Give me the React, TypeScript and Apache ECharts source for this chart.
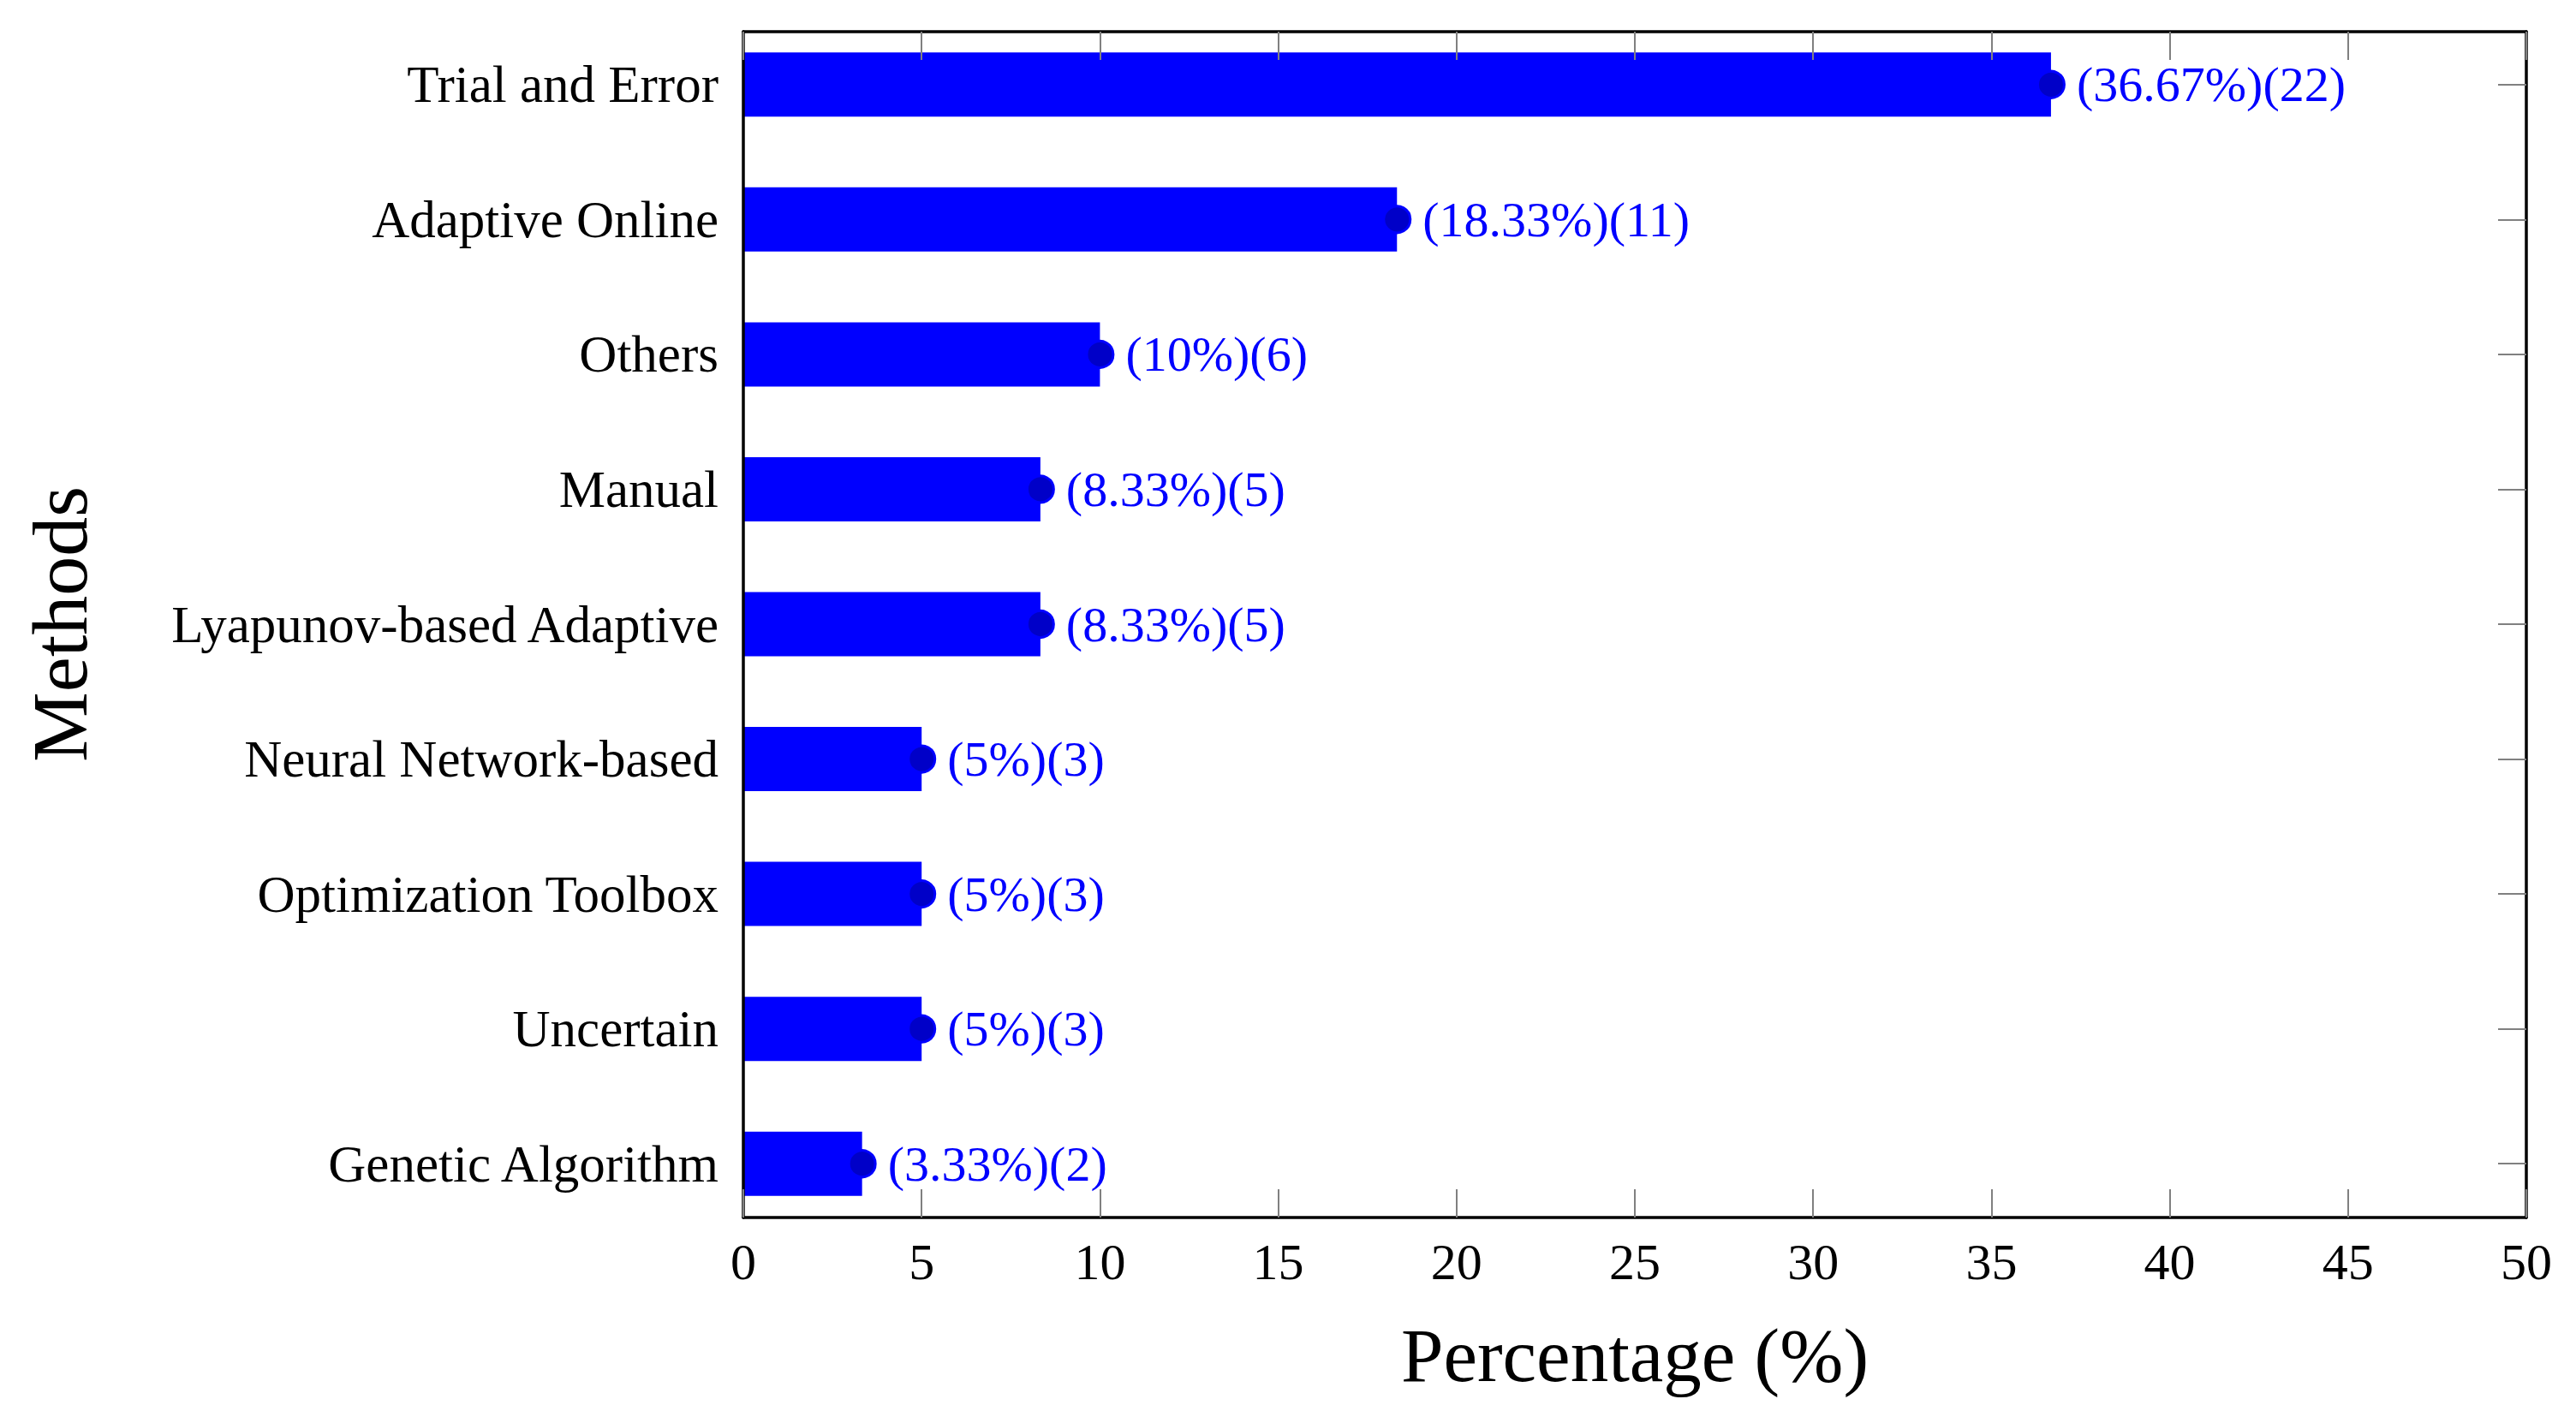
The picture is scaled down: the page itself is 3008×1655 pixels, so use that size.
import * as echarts from 'echarts';
import { useEffect, useRef } from 'react';

const methods = [
    'Trial and Error',
    'Adaptive Online',
    'Others',
    'Manual',
    'Lyapunov-based Adaptive',
    'Neural Network-based',
    'Optimization Toolbox',
    'Uncertain',
    'Genetic Algorithm'
];
const percentages = [36.67, 18.33, 10, 8.33, 8.33, 5, 5, 5, 3.33];
const counts = [22, 11, 6, 5, 5, 3, 3, 3, 2];
const xTicks = [0, 5, 10, 15, 20, 25, 30, 35, 40, 45, 50];

const FONT = 'Liberation Serif';
const BLUE = '#0000ff';
const TICK = { show: true, inside: true, length: 33, lineStyle: { color: '#808080', width: 2 } };
const FRAME = { show: true, onZero: false, lineStyle: { color: '#000', width: 3.5 } };

const App = () => {
    const chartDiv = useRef<HTMLDivElement>(null);

    useEffect(() => {
        document.body.style.margin = '0';
        const chart = echarts.init(chartDiv.current, null, { renderer: 'svg' });

        const xMin = xTicks[0];
        const xMax = xTicks[xTicks.length - 1];

        chart.setOption({
            animation: false,
            backgroundColor: '#fff',
            grid: [
                // frame
                { left: 868, top: 37, width: 2082, height: 1385 },
                // bars (slightly taller, like pgfplots' enlarged limits)
                { left: 868, top: 20, width: 2082, height: 1418 }
            ],
            xAxis: [
                {
                    type: 'value', gridIndex: 0, position: 'bottom', min: xMin, max: xMax, interval: 5, z: 10,
                    axisLine: FRAME, axisTick: TICK, splitLine: { show: false },
                    axisLabel: { fontFamily: FONT, fontSize: 60, color: '#000', margin: 22 },
                    name: 'Percentage (%)', nameLocation: 'middle', nameGap: 116,
                    nameTextStyle: { fontFamily: FONT, fontSize: 89, color: '#000' }
                },
                {
                    type: 'value', gridIndex: 0, position: 'top', min: xMin, max: xMax, interval: 5, z: 10,
                    axisLine: FRAME, axisTick: TICK, splitLine: { show: false }, axisLabel: { show: false }
                },
                {
                    type: 'value', gridIndex: 1, min: xMin, max: xMax, show: false
                }
            ],
            yAxis: [
                {
                    type: 'value', gridIndex: 0, position: 'left', z: 10,
                    axisLine: FRAME, axisTick: { show: false }, axisLabel: { show: false }, splitLine: { show: false }
                },
                {
                    type: 'value', gridIndex: 0, position: 'right', z: 10,
                    axisLine: FRAME, axisTick: { show: false }, axisLabel: { show: false }, splitLine: { show: false }
                },
                {
                    type: 'category', gridIndex: 1, position: 'left', inverse: true, data: methods,
                    axisLine: { show: false }, axisTick: { show: false },
                    axisLabel: { fontFamily: FONT, fontSize: 61, color: '#000', margin: 29 },
                    name: 'Methods', nameLocation: 'middle', nameGap: 752,
                    nameTextStyle: { fontFamily: FONT, fontSize: 92, color: '#000' }
                },
                {
                    type: 'category', gridIndex: 1, position: 'right', inverse: true, data: methods, z: 10,
                    axisLine: { show: false },
                    axisTick: { ...TICK, alignWithLabel: true },
                    axisLabel: { show: false }
                }
            ],
            series: [
                {
                    type: 'bar',
                    xAxisIndex: 2,
                    yAxisIndex: 2,
                    data: percentages,
                    barWidth: 75,
                    itemStyle: { color: BLUE },
                    label: {
                        show: true,
                        position: 'right',
                        distance: 30,
                        fontFamily: FONT,
                        fontSize: 58,
                        color: BLUE,
                        formatter: (p: any) => `(${percentages[p.dataIndex]}%)(${counts[p.dataIndex]})`
                    }
                },
                {
                    type: 'scatter',
                    xAxisIndex: 2,
                    yAxisIndex: 2,
                    data: percentages.map((v, i) => [v, i]),
                    symbol: 'circle',
                    symbolSize: 31,
                    itemStyle: { color: '#0000c8', borderColor: BLUE, borderWidth: 3, opacity: 1 },
                    z: 5
                }
            ]
        });

        return () => {
            chart.dispose();
        };
    }, []);

    return <div ref={chartDiv} style={{ width: '3008px', height: '1655px' }} />;
};

export default App;
